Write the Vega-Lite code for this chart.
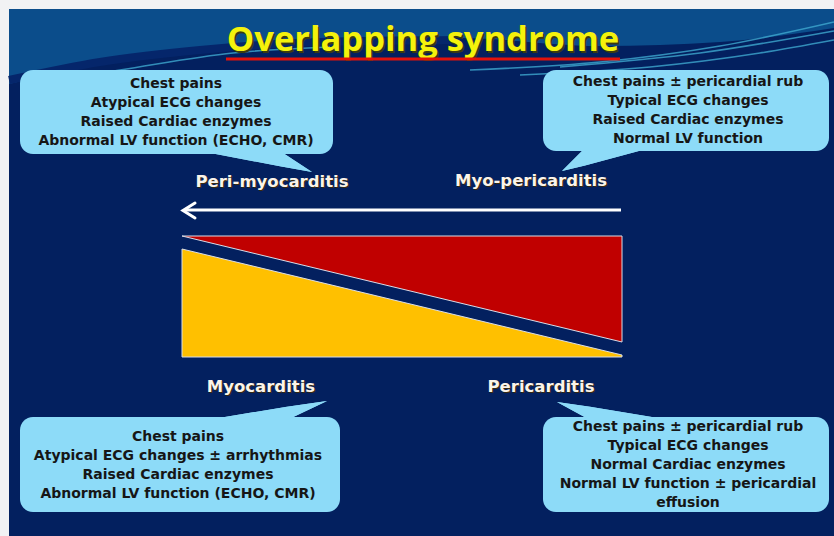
{
  "$schema": "https://vega.github.io/schema/vega-lite/v6.json",
  "width": 834,
  "height": 536,
  "autosize": {"type": "none"},
  "padding": 0,
  "background": "#f1f2f4",
  "config": {"view": {"stroke": null}},
  "datasets": {
    "bg": [{"x": 9, "x2": 834, "y": 9, "y2": 536}],
    "band": [
      {"x": 9, "y": 9, "y2": 84},
      {"x": 90, "y": 9, "y2": 66},
      {"x": 200, "y": 9, "y2": 50},
      {"x": 320, "y": 9, "y2": 40},
      {"x": 460, "y": 9, "y2": 38},
      {"x": 600, "y": 9, "y2": 46},
      {"x": 720, "y": 9, "y2": 42},
      {"x": 834, "y": 9, "y2": 28}
    ],
    "darkswoosh": [
      {"id": "a", "i": 0, "x": 9, "y": 80},
      {"id": "a", "i": 1, "x": 100, "y": 62},
      {"id": "a", "i": 2, "x": 200, "y": 50},
      {"id": "a", "i": 3, "x": 320, "y": 42},
      {"id": "a", "i": 4, "x": 460, "y": 40}
    ],
    "lightswoosh": [
      {"id": "b", "i": 0, "x": 30, "y": 84},
      {"id": "b", "i": 1, "x": 120, "y": 70},
      {"id": "b", "i": 2, "x": 233, "y": 53},
      {"id": "b", "i": 3, "x": 330, "y": 47},
      {"id": "c", "i": 0, "x": 470, "y": 70},
      {"id": "c", "i": 1, "x": 600, "y": 62},
      {"id": "c", "i": 2, "x": 720, "y": 46},
      {"id": "c", "i": 3, "x": 834, "y": 22},
      {"id": "d", "i": 0, "x": 520, "y": 75},
      {"id": "d", "i": 1, "x": 650, "y": 67},
      {"id": "d", "i": 2, "x": 760, "y": 53},
      {"id": "d", "i": 3, "x": 834, "y": 40},
      {"id": "e", "i": 0, "x": 560, "y": 67},
      {"id": "e", "i": 1, "x": 700, "y": 53},
      {"id": "e", "i": 2, "x": 834, "y": 31}
    ],
    "boxes": [
      {"x": 20, "x2": 333, "y": 70, "y2": 154},
      {"x": 543, "x2": 829, "y": 70, "y2": 151},
      {"x": 20, "x2": 340, "y": 417, "y2": 512},
      {"x": 543, "x2": 829, "y": 417, "y2": 512}
    ],
    "tails": [
      {"id": "tl", "x": 200, "y": 151, "y2": 151},
      {"id": "tl", "x": 280, "y": 151, "y2": 166.3},
      {"id": "tl", "x": 312, "y": 172, "y2": 172},
      {"id": "tr", "x": 562, "y": 171, "y2": 171},
      {"id": "tr", "x": 585, "y": 148, "y2": 165.5},
      {"id": "tr", "x": 650, "y": 148, "y2": 148},
      {"id": "bl", "x": 207, "y": 420, "y2": 420},
      {"id": "bl", "x": 287, "y": 406.7, "y2": 420},
      {"id": "bl", "x": 327, "y": 401, "y2": 401},
      {"id": "br", "x": 557, "y": 402, "y2": 402},
      {"id": "br", "x": 590, "y": 406.7, "y2": 420},
      {"id": "br", "x": 670, "y": 420, "y2": 420}
    ],
    "tri": [
      {"id": "Pericarditis", "x": 182, "y": 236, "y2": 236},
      {"id": "Pericarditis", "x": 622, "y": 236, "y2": 342},
      {"id": "Myocarditis", "x": 182, "y": 249, "y2": 357},
      {"id": "Myocarditis", "x": 622, "y": 355, "y2": 357}
    ],
    "arrow": [{"x": 185, "x2": 621, "y": 210}],
    "head": [
      {"i": 0, "x": 195, "y": 203},
      {"i": 1, "x": 183, "y": 210.5},
      {"i": 2, "x": 195, "y": 218}
    ],
    "title": [{"x": 423, "y": 51, "t": "Overlapping syndrome"}],
    "underline": [{"x": 226, "x2": 620, "y": 59}],
    "txt": [
      {"x": 176, "y": 84, "t": "Chest pains"},
      {"x": 176, "y": 103, "t": "Atypical ECG changes"},
      {"x": 176, "y": 122, "t": "Raised Cardiac enzymes"},
      {"x": 176, "y": 141, "t": "Abnormal LV function (ECHO, CMR)"},
      {"x": 688, "y": 82, "t": "Chest pains  ± pericardial rub"},
      {"x": 688, "y": 101, "t": "Typical ECG changes"},
      {"x": 688, "y": 120, "t": "Raised Cardiac enzymes"},
      {"x": 688, "y": 139, "t": "Normal LV function"},
      {"x": 178, "y": 437, "t": "Chest pains"},
      {"x": 178, "y": 456, "t": "Atypical ECG changes  ± arrhythmias"},
      {"x": 178, "y": 475, "t": "Raised Cardiac enzymes"},
      {"x": 178, "y": 494, "t": "Abnormal LV function (ECHO, CMR)"},
      {"x": 688, "y": 427, "t": "Chest pains  ± pericardial rub"},
      {"x": 688, "y": 446, "t": "Typical ECG changes"},
      {"x": 688, "y": 465, "t": "Normal Cardiac enzymes"},
      {"x": 688, "y": 484, "t": "Normal LV function ± pericardial"},
      {"x": 688, "y": 503, "t": "effusion"}
    ],
    "lab": [
      {"x": 272, "y": 182, "t": "Peri-myocarditis"},
      {"x": 531, "y": 181, "t": "Myo-pericarditis"},
      {"x": 261, "y": 387, "t": "Myocarditis"},
      {"x": 541, "y": 387, "t": "Pericarditis"}
    ]
  },
  "encoding": {
    "x": {"field": "x", "type": "quantitative", "scale": {"domain": [0, 834], "nice": false, "zero": false}, "axis": null},
    "y": {"field": "y", "type": "quantitative", "stack": null, "scale": {"domain": [0, 536], "reverse": true, "nice": false, "zero": false}, "axis": null}
  },
  "layer": [
    {
      "data": {"name": "bg"},
      "mark": {"type": "rect", "fill": "#03205f"},
      "encoding": {"x2": {"field": "x2"}, "y2": {"field": "y2"}}
    },
    {
      "data": {"name": "band"},
      "mark": {"type": "area", "fill": "#0b4d8b", "interpolate": "monotone"},
      "encoding": {"y2": {"field": "y2"}}
    },
    {
      "data": {"name": "darkswoosh"},
      "mark": {"type": "line", "stroke": "#05266b", "strokeWidth": 8, "interpolate": "monotone"},
      "encoding": {"detail": {"field": "id"}, "order": {"field": "i"}}
    },
    {
      "data": {"name": "lightswoosh"},
      "mark": {"type": "line", "stroke": "#3fa9cf", "strokeWidth": 1.6, "opacity": 0.8, "interpolate": "monotone"},
      "encoding": {"detail": {"field": "id"}, "order": {"field": "i"}}
    },
    {
      "data": {"name": "title"},
      "mark": {"type": "text", "font": "Open Sans", "fontWeight": "bold", "fontSize": 34.5, "align": "center", "baseline": "alphabetic", "fill": "#3b3a10", "dx": 1.5, "dy": 1.5},
      "encoding": {"text": {"field": "t"}}
    },
    {
      "data": {"name": "title"},
      "mark": {"type": "text", "font": "Open Sans", "fontWeight": "bold", "fontSize": 34.5, "align": "center", "baseline": "alphabetic", "fill": "#f4f20c"},
      "encoding": {"text": {"field": "t"}}
    },
    {
      "data": {"name": "underline"},
      "mark": {"type": "rule", "stroke": "#e3120b", "strokeWidth": 3},
      "encoding": {"x2": {"field": "x2"}}
    },
    {
      "data": {"name": "tails"},
      "mark": {"type": "area", "fill": "#8ddbf8"},
      "encoding": {"y2": {"field": "y2"}, "detail": {"field": "id"}}
    },
    {
      "data": {"name": "boxes"},
      "mark": {"type": "rect", "fill": "#8ddbf8", "cornerRadius": 13},
      "encoding": {"x2": {"field": "x2"}, "y2": {"field": "y2"}}
    },
    {
      "data": {"name": "tails"},
      "mark": {"type": "area", "fill": "#8ddbf8"},
      "encoding": {"y2": {"field": "y2"}, "detail": {"field": "id"}}
    },
    {
      "data": {"name": "tri"},
      "mark": {"type": "area", "stroke": "#d9dde8", "strokeWidth": 1},
      "encoding": {
        "y2": {"field": "y2"},
        "detail": {"field": "id"},
        "color": {"field": "id", "type": "nominal", "legend": null, "scale": {"domain": ["Pericarditis", "Myocarditis"], "range": ["#c00000", "#ffc000"]}}
      }
    },
    {
      "data": {"name": "arrow"},
      "mark": {"type": "rule", "stroke": "#ffffff", "strokeWidth": 3},
      "encoding": {"x2": {"field": "x2"}}
    },
    {
      "data": {"name": "head"},
      "mark": {"type": "line", "stroke": "#ffffff", "strokeWidth": 3, "strokeCap": "round", "strokeJoin": "miter"},
      "encoding": {"order": {"field": "i"}}
    },
    {
      "data": {"name": "txt"},
      "mark": {"type": "text", "font": "DejaVu Sans", "fontWeight": "bold", "fontSize": 14, "align": "center", "baseline": "middle", "fill": "#161616"},
      "encoding": {"text": {"field": "t"}}
    },
    {
      "data": {"name": "lab"},
      "mark": {"type": "text", "font": "DejaVu Sans", "fontWeight": "bold", "fontSize": 16.5, "align": "center", "baseline": "middle", "fill": "#3a2a10", "dx": 1, "dy": 1},
      "encoding": {"text": {"field": "t"}}
    },
    {
      "data": {"name": "lab"},
      "mark": {"type": "text", "font": "DejaVu Sans", "fontWeight": "bold", "fontSize": 16.5, "align": "center", "baseline": "middle", "fill": "#fbf4ea"},
      "encoding": {"text": {"field": "t"}}
    }
  ]
}
